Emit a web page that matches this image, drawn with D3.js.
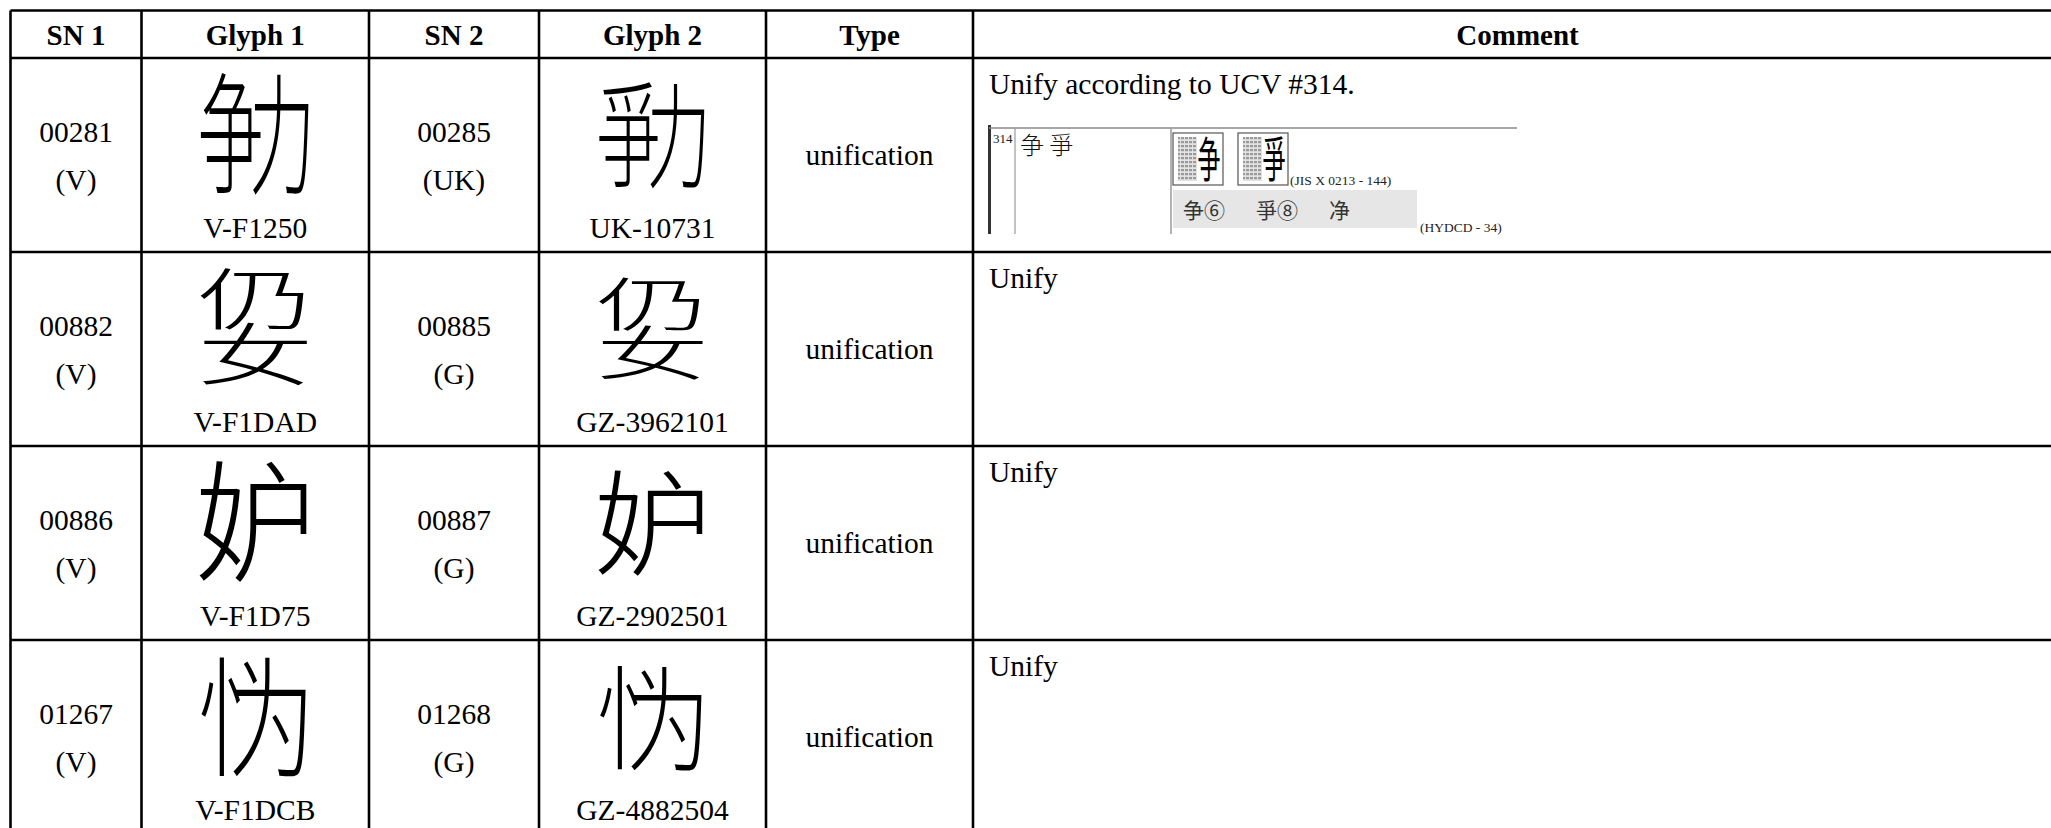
<!DOCTYPE html>
<html><head><meta charset="utf-8">
<script src="https://cdn.jsdelivr.net/npm/d3@7"></script>
<style>html,body{margin:0;padding:0;background:#fff;overflow:hidden}</style>
</head><body>
<svg id="c" width="2051" height="828"></svg>
<script>
// ---------- data ----------
const headers   = ["SN 1", "Glyph 1", "SN 2", "Glyph 2", "Type", "Comment"];
const sn1       = ["00281", "00882", "00886", "01267"];
const src1      = ["V", "V", "V", "V"];
const sn2       = ["00285", "00885", "00887", "01268"];
const src2      = ["UK", "G", "G", "G"];
const glyph1    = [["争","力"], ["仍","女"], ["妒"], ["忄","为"]];
const glyph2    = [["爭","力"], ["仍","女"], ["妒"], ["忄","为"]];
const glyphForm = ["lr", "tb", "single", "lrNarrow"];
const code1     = ["V-F1250", "V-F1DAD", "V-F1D75", "V-F1DCB"];
const code2     = ["UK-10731", "GZ-3962101", "GZ-2902501", "GZ-4882504"];
const types     = ["unification", "unification", "unification", "unification"];
const comments  = ["Unify according to UCV #314.", "Unify", "Unify", "Unify"];
const ucvNumber = "314";
const ucvChars  = "争 爭";
const jisChars  = ["争", "爭"];
const jisSource = "(JIS X 0213 - 144)";
const hydcdItems  = ["争⑥", "爭⑧", "净"];
const hydcdSource = "(HYDCD - 34)";

// ---------- layout ----------
const W = 2051, H = 828;
const svg = d3.select("#c");
svg.append("rect").attr("width", W).attr("height", H).attr("fill", "#fff");
const defs = svg.append("defs");
const pat = defs.append("pattern").attr("id", "hatch").attr("patternUnits", "userSpaceOnUse")
  .attr("width", 4).attr("height", 4);
pat.append("rect").attr("width", 4).attr("height", 4).attr("fill", "#e2e2e2");
pat.append("rect").attr("width", 3).attr("height", 2.2).attr("fill", "#9a9a9a");

const colEdges = [10.5, 141.5, 369, 539, 766, 973, 2062];
const x = d3.scaleOrdinal().domain(d3.range(6)).range(colEdges.slice(0, 6));
const xEnd = i => colEdges[i + 1];
const xMid = i => (x(i) + xEnd(i)) / 2;
const headTop = 10.5, headBot = 58;
const rowH = 194;
const y = d3.scaleBand().domain(d3.range(sn1.length)).range([headBot, headBot + rowH * sn1.length]).padding(0);

const SERIF = "'Liberation Serif', 'Times New Roman', serif";
const CJK = "'Noto Sans CJK SC', 'Noto Sans CJK JP', sans-serif";
const FS = 29.5;

// header
svg.append("g").selectAll("text").data(headers).join("text")
  .attr("x", (d, i) => xMid(i)).attr("y", 44.5)
  .attr("text-anchor", "middle").attr("font-family", SERIF).attr("font-weight", "bold")
  .attr("font-size", 29).attr("fill", "#000").text(d => d);

const rows = svg.append("g").selectAll("g").data(d3.range(sn1.length)).join("g")
  .attr("transform", i => `translate(0,${y(i)})`);

function snCell(sel, col, nums, srcs) {
  sel.append("text").attr("x", xMid(col)).attr("y", 84).attr("text-anchor", "middle")
    .attr("font-family", SERIF).attr("font-size", FS).text(i => nums[i]);
  sel.append("text").attr("x", xMid(col)).attr("y", 132).attr("text-anchor", "middle")
    .attr("font-family", SERIF).attr("font-size", FS).text(i => `(${srcs[i]})`);
}
snCell(rows, 0, sn1, src1);
snCell(rows, 2, sn2, src2);

// glyph composition templates: overall scale (relative to box) and part offsets (em)
const forms = {
  lr:       {sx: 0.54, sy: 1.0,  parts: [{dx: -0.376, dy: 0}, {dx: 0.41, dy: 0.01}]},
  tb:       {sx: 0.96, sy: 0.51, parts: [{dx: 0, dy: -0.43}, {dx: 0, dy: 0.41}]},
  single:   {sx: 1.0,  sy: 1.0,  parts: [{dx: 0, dy: 0}]},
  lrNarrow: {sx: 0.71, sy: 1.0,  parts: [{dx: -0.19, dy: 0}, {dx: 0.19, dy: 0.02}]}
};
function glyphCell(sel, col, glyphs, bw, bh, cyRel) {
  const G = bh / 0.88;
  sel.each(function(i) {
    const f = forms[glyphForm[i]];
    const t = d3.select(this).append("text")
      .attr("transform", `translate(${xMid(col)},${cyRel}) scale(${f.sx * bw / bh},${f.sy})`)
      .attr("text-anchor", "middle").attr("font-family", CJK).attr("font-size", G)
      .attr("font-weight", 300).attr("fill", "#000");
    glyphs[i].forEach((ch, k) => {
      const p = f.parts[k];
      t.append("tspan").attr("x", p.dx * G).attr("y", (p.dy + 0.38) * G).text(ch);
    });
  });
}
glyphCell(rows, 1, glyph1, 107, 115, 75);
glyphCell(rows, 3, glyph2, 104, 100, 77);

rows.append("text").attr("x", xMid(1)).attr("y", 180).attr("text-anchor", "middle")
  .attr("font-family", SERIF).attr("font-size", FS).text(i => code1[i]);
rows.append("text").attr("x", xMid(3)).attr("y", 180).attr("text-anchor", "middle")
  .attr("font-family", SERIF).attr("font-size", FS).text(i => code2[i]);
rows.append("text").attr("x", xMid(4)).attr("y", 107).attr("text-anchor", "middle")
  .attr("font-family", SERIF).attr("font-size", FS).text(i => types[i]);
rows.append("text").attr("x", x(5) + 16).attr("y", 36)
  .attr("font-family", SERIF).attr("font-size", FS).text(i => comments[i]);

// ---------- embedded UCV excerpt in first comment ----------
const ex = svg.append("g").attr("transform", `translate(0,${y(0)})`);
const ox = x(5) + 16; // 989
ex.append("line").attr("x1", ox + 0.5).attr("x2", ox + 0.5).attr("y1", 67).attr("y2", 176)
  .attr("stroke", "#333").attr("stroke-width", 3);
ex.append("line").attr("x1", ox).attr("x2", ox + 528).attr("y1", 70).attr("y2", 70)
  .attr("stroke", "#8a8a8a").attr("stroke-width", 1.5);
ex.append("line").attr("x1", ox + 26).attr("x2", ox + 26).attr("y1", 70).attr("y2", 176)
  .attr("stroke", "#9a9a9a").attr("stroke-width", 1.2);
ex.append("line").attr("x1", ox + 182).attr("x2", ox + 182).attr("y1", 70).attr("y2", 176)
  .attr("stroke", "#9a9a9a").attr("stroke-width", 1.5);
ex.append("text").attr("x", ox + 4).attr("y", 85).attr("font-family", SERIF).attr("font-size", 13)
  .attr("fill", "#222").text(ucvNumber);
ex.append("text").attr("x", ox + 31).attr("y", 96).attr("font-family", CJK).attr("font-size", 24)
  .attr("font-weight", 300).attr("fill", "#111").text(ucvChars);

const boxes = ex.append("g").selectAll("g").data(jisChars).join("g")
  .attr("transform", (d, i) => `translate(${ox + 184 + i * 65},75)`);
boxes.append("rect").attr("x", 0).attr("y", 0).attr("width", 50).attr("height", 52)
  .attr("fill", "#fff").attr("stroke", "#555").attr("stroke-width", 1.2);
boxes.append("rect").attr("x", 5).attr("y", 4).attr("width", 19).attr("height", 44)
  .attr("fill", "url(#hatch)");
boxes.append("text").attr("transform", "translate(36,26) scale(0.5,1.05)")
  .attr("y", 0.38 * 46).attr("text-anchor", "middle").attr("font-family", CJK)
  .attr("font-size", 46).attr("font-weight", 400).attr("fill", "#000").text(d => d);

ex.append("text").attr("x", ox + 301).attr("y", 127).attr("font-family", SERIF).attr("font-size", 13.5)
  .attr("fill", "#222").text(jisSource);
ex.append("rect").attr("x", ox + 184).attr("y", 132).attr("width", 244).attr("height", 38)
  .attr("fill", "#e6e6e6");
ex.append("g").selectAll("text").data(hydcdItems).join("text")
  .attr("x", (d, i) => ox + 194 + i * 73).attr("y", 160)
  .attr("font-family", CJK).attr("font-size", 21).attr("fill", "#333").text(d => d);
ex.append("text").attr("x", ox + 431).attr("y", 174).attr("font-family", SERIF).attr("font-size", 13.5)
  .attr("fill", "#222").text(hydcdSource);

// ---------- grid lines ----------
const grid = svg.append("g").attr("stroke", "#000").attr("stroke-width", 2.6);
const hy = [headTop, headBot].concat(d3.range(1, sn1.length + 1).map(i => y(i - 1) + rowH));
grid.selectAll("line.h").data(hy).join("line").attr("class", "h")
  .attr("x1", colEdges[0]).attr("x2", colEdges[6]).attr("y1", d => d).attr("y2", d => d);
grid.selectAll("line.v").data(colEdges).join("line").attr("class", "v")
  .attr("x1", d => d).attr("x2", d => d).attr("y1", headTop).attr("y2", hy[hy.length - 1]);
</script>
</body></html>
